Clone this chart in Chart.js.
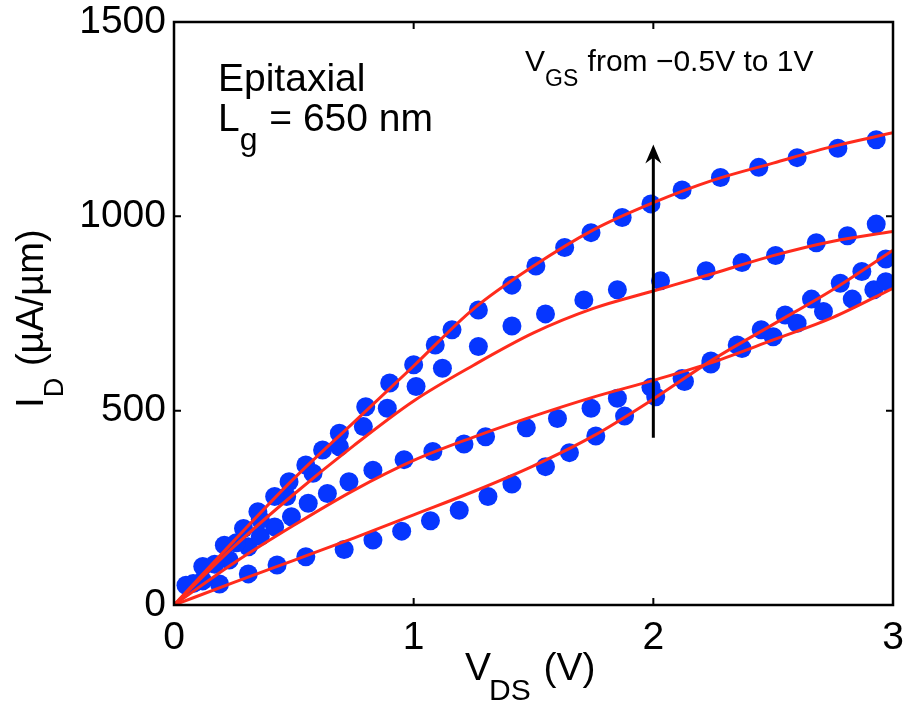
<!DOCTYPE html>
<html>
<head>
<meta charset="utf-8">
<script src="https://cdn.jsdelivr.net/npm/chart.js@4.4.1/dist/chart.umd.min.js"></script>
<style>
  body { margin: 0; background: #fff; }
  canvas { display: block; }
</style>
</head>
<body>
<canvas id="grafico" width="904" height="705"></canvas>
<script>
// fit curves (red), sampled along V_DS
const vFit = [0, 0.25, 0.5, 0.75, 1.0, 1.25, 1.5, 1.75, 2.0, 2.25, 2.5, 2.75, 3.0];
const fitVgs1 = [0, 165, 325, 470, 615, 762, 872, 965, 1035, 1093, 1137, 1180, 1215];
const fitVgs05 = [0, 150, 285, 410, 525, 617, 700, 763, 808, 853, 899, 936, 961];
const fitVgs0 = [0, 108, 205, 295, 372, 432, 486, 535, 578, 625, 682, 740, 815];
const fitVgsM05 = [0, 58, 115, 172, 232, 292, 358, 435, 530, 632, 722, 812, 913];

// measured points (blue)
const vMeas1 = [0.05, 0.12, 0.21, 0.29, 0.35, 0.42, 0.48, 0.55, 0.62, 0.69, 0.80, 0.90, 1.00, 1.09, 1.16, 1.27, 1.41, 1.51, 1.63, 1.74, 1.87, 1.99, 2.12, 2.28, 2.44, 2.60, 2.77, 2.93];
const iMeas1 = [51, 99, 154, 197, 240, 279, 317, 360, 399, 442, 510, 571, 618, 669, 708, 759, 823, 872, 920, 958, 997, 1032, 1068, 1100, 1126, 1151, 1175, 1197];

const vMeas05 = [0.08, 0.17, 0.26, 0.36, 0.47, 0.58, 0.69, 0.79, 0.89, 1.01, 1.12, 1.27, 1.41, 1.55, 1.71, 1.85, 2.03, 2.22, 2.37, 2.51, 2.68, 2.81, 2.93];
const iMeas05 = [55, 105, 160, 220, 279, 339, 407, 459, 506, 562, 609, 665, 718, 749, 785, 811, 834, 860, 881, 899, 932, 950, 980];

const vMeas0 = [0.12, 0.23, 0.31, 0.36, 0.42, 0.49, 0.56, 0.64, 0.73, 0.83, 0.96, 1.08, 1.21, 1.30, 1.47, 1.60, 1.74, 1.85, 1.99, 2.12, 2.24, 2.37, 2.50, 2.60, 2.71, 2.83, 2.92, 2.97];
const iMeas0 = [62, 116, 150, 176, 201, 227, 262, 287, 317, 347, 374, 395, 414, 433, 456, 480, 506, 532, 560, 583, 620, 660, 690, 725, 755, 787, 811, 832];

const vMeasM05 = [0.19, 0.31, 0.43, 0.55, 0.71, 0.83, 0.95, 1.07, 1.19, 1.31, 1.41, 1.55, 1.65, 1.76, 1.88, 2.01, 2.13, 2.24, 2.35, 2.45, 2.55, 2.66, 2.78, 2.87, 2.97];
const iMeasM05 = [54, 80, 103, 124, 143, 167, 190, 217, 244, 279, 311, 356, 392, 435, 486, 536, 575, 628, 669, 708, 746, 787, 828, 858, 890];

const xTicks = [0, 1, 2, 3];
const yTicks = [0, 500, 1000, 1500];

// arrow "VGS from -0.5V to 1V" (data units)
const flechaV = 2.0;
const flechaDesde = 430;
const flechaHasta = 1185;

const FUENTE = '"Liberation Sans", Arial, Helvetica, sans-serif';
const AZUL = "#0636ff";
const ROJO = "#ff2b1c";

function puntos(xs, ys) {
  return xs.map((x, i) => ({ x: x, y: ys[i] }));
}

function curvaFit(ys) {
  return {
    type: "line",
    data: puntos(vFit, ys),
    borderColor: ROJO,
    borderWidth: 3,
    pointRadius: 0,
    fill: false,
    cubicInterpolationMode: "monotone",
    order: 0
  };
}

function medidas(xs, ys) {
  return {
    type: "scatter",
    data: puntos(xs, ys),
    backgroundColor: AZUL,
    borderWidth: 0,
    pointRadius: 9.5,
    order: 1
  };
}

// sin relleno extra de las etiquetas: el area queda fija
function sinPadding(s) {
  s.paddingTop = 0;
  s.paddingBottom = 0;
  s.paddingLeft = 0;
  s.paddingRight = 0;
}

// marco, ticks hacia adentro, flecha y textos
const marcoPlugin = {
  id: "marco",
  afterDatasetsDraw(chart) {
    const { ctx, chartArea: a, scales } = chart;
    const sx = scales.x, sy = scales.y;
    ctx.save();

    // flecha
    const fx = sx.getPixelForValue(flechaV);
    const fy0 = sy.getPixelForValue(flechaDesde);
    const fy1 = sy.getPixelForValue(flechaHasta);
    ctx.strokeStyle = "#000";
    ctx.fillStyle = "#000";
    ctx.lineWidth = 3;
    ctx.beginPath();
    ctx.moveTo(fx, fy0);
    ctx.lineTo(fx, fy1 + 8);
    ctx.stroke();
    ctx.beginPath();
    ctx.moveTo(fx, fy1);
    ctx.lineTo(fx - 8, fy1 + 19);
    ctx.lineTo(fx, fy1 + 13);
    ctx.lineTo(fx + 8, fy1 + 19);
    ctx.closePath();
    ctx.fill();

    // marco
    ctx.lineWidth = 2.5;
    ctx.strokeRect(a.left, a.top, a.right - a.left, a.bottom - a.top);
    ctx.lineWidth = 2;
    ctx.beginPath();
    xTicks.forEach(v => {
      const p = sx.getPixelForValue(v);
      ctx.moveTo(p, a.bottom); ctx.lineTo(p, a.bottom - 7);
      ctx.moveTo(p, a.top); ctx.lineTo(p, a.top + 7);
    });
    yTicks.forEach(v => {
      const p = sy.getPixelForValue(v);
      ctx.moveTo(a.left, p); ctx.lineTo(a.left + 7, p);
      ctx.moveTo(a.right, p); ctx.lineTo(a.right - 7, p);
    });
    ctx.stroke();

    // textos
    ctx.fillStyle = "#000";
    ctx.textAlign = "left";
    ctx.textBaseline = "alphabetic";
    const t = (s, x, y, size) => {
      ctx.font = size + "px " + FUENTE;
      ctx.fillText(s, x, y);
      return x + ctx.measureText(s).width;
    };

    t("Epitaxial", 218, 91, 39);
    let x = t("L", 218, 131, 39);
    x = t("g", x, 150, 32);
    t(" = 650 nm", x + 1, 131, 39);

    x = t("V", 525, 71, 30);
    x = t("GS", x, 86, 23);
    t(" from \u22120.5V to 1V", x + 1, 71, 30);

    // eje x
    x = t("V", 465, 680, 39);
    x = t("DS", x - 2, 700, 30);
    t(" (V)", x + 2, 680, 39);

    // eje y
    ctx.translate(43, 408);
    ctx.rotate(-Math.PI / 2);
    x = t("I", 0, 0, 39);
    x = t("D", x, 20, 27);
    t(" (\u00b5A/\u00b5m)", x + 1, 0, 38);

    ctx.restore();
  }
};

const ctx = document.getElementById("grafico").getContext("2d");
new Chart(ctx, {
  type: "scatter",
  data: {
    datasets: [
      curvaFit(fitVgs1),
      curvaFit(fitVgs05),
      curvaFit(fitVgs0),
      curvaFit(fitVgsM05),
      medidas(vMeas1, iMeas1),
      medidas(vMeas05, iMeas05),
      medidas(vMeas0, iMeas0),
      medidas(vMeasM05, iMeasM05)
    ]
  },
  options: {
    responsive: false,
    animation: false,
    layout: { padding: { top: 22, right: 11, left: 0, bottom: 0 } },
    plugins: {
      legend: { display: false },
      tooltip: { enabled: false }
    },
    scales: {
      x: {
        type: "linear",
        min: 0,
        max: 3,
        afterBuildTicks: s => { s.ticks = xTicks.map(v => ({ value: v })); },
        ticks: { color: "#000", font: { size: 39, family: FUENTE }, padding: 10, maxRotation: 0, callback: v => String(v) },
        grid: { display: false, drawTicks: false },
        border: { display: false },
        afterFit: s => { s.height = 100; sinPadding(s); }
      },
      y: {
        type: "linear",
        min: 0,
        max: 1500,
        afterBuildTicks: s => { s.ticks = yTicks.map(v => ({ value: v })); },
        ticks: { color: "#000", font: { size: 39, family: FUENTE }, padding: 8, callback: v => String(v) },
        grid: { display: false, drawTicks: false },
        border: { display: false },
        afterFit: s => { s.width = 174; sinPadding(s); }
      }
    }
  },
  plugins: [marcoPlugin]
});
</script>
</body>
</html>
